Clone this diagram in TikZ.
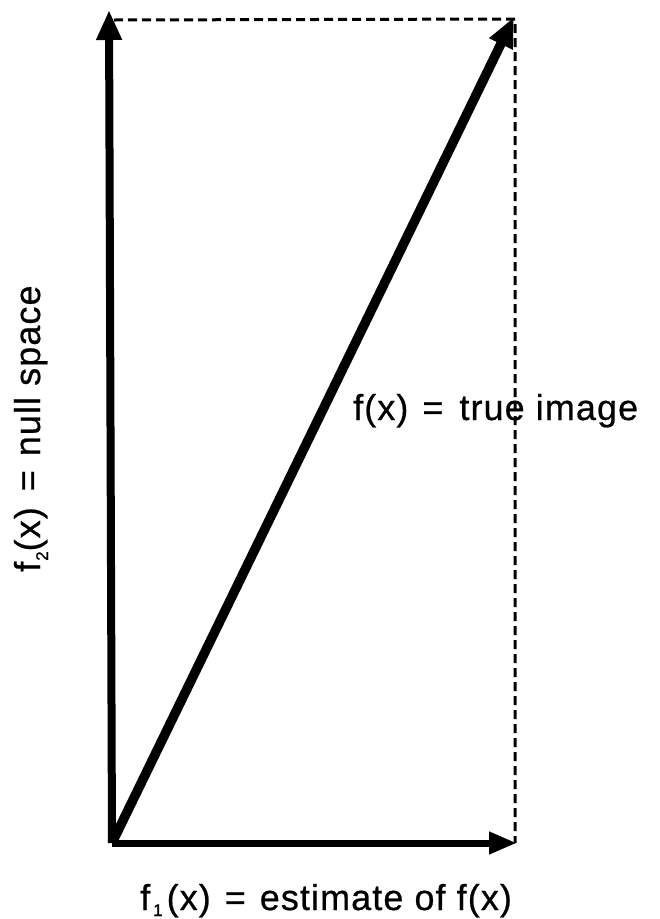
\documentclass[tikz,border=0pt]{standalone}
\usepackage{fontspec}
\setmainfont{Liberation Sans}[LetterSpace=3,FakeBold=0.6]
\usetikzlibrary{arrows.meta}
\begin{document}
\begin{tikzpicture}[x=1pt,y=-1pt,
  vec/.style={line width=8pt,-{Triangle[length=30pt,width=24pt]}},
  dashline/.style={line width=3pt,dash pattern=on 9pt off 5pt},
  lbl/.style={inner sep=0pt,font=\fontsize{36}{40}\selectfont}]
\useasboundingbox (0,0) rectangle (660,919);
\coordinate (O) at (112,843);
\coordinate (T) at (109,10);
\coordinate (R) at (517,843);
\coordinate (D) at (514,17);
\coordinate (TL) at (114,20);
\coordinate (C) at (515,19);
\coordinate (CB) at (515,843);
\draw[dashline] (TL) -- (C) -- (CB);
\draw[vec] (O) -- (T);
\draw[vec,line width=7pt,-{Triangle[length=28pt,width=21pt]}] (O) -- (R);
\draw[vec,line width=9.5pt] (O) -- (D);
\node[lbl,anchor=base west] (ftrue) at (353,420) {f(x)\hspace{14pt}=\hspace{16pt}true image};
\node[lbl,anchor=base west] (fest) at (140,910) {f\hspace{3pt}\raisebox{-6pt}{\fontsize{17}{17}\selectfont 1}\hspace{4pt}(x)\hspace{14pt}=\hspace{14pt}estimate of f(x)};
\node[lbl,anchor=base west,rotate=90] (fnull) at (40,572) {f\hspace{1pt}\raisebox{-8pt}{\fontsize{17}{17}\selectfont 2}(x)\hspace{16pt}=\hspace{14pt}null space};
\end{tikzpicture}
\end{document}
